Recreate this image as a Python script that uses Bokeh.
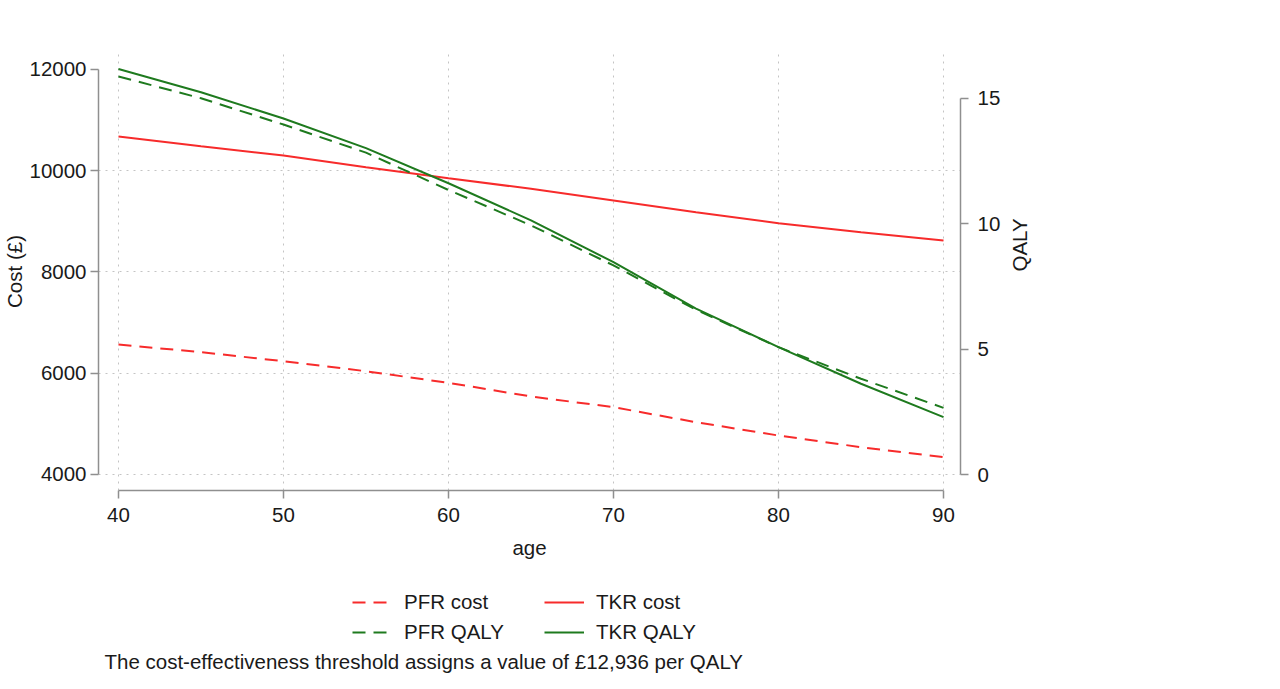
import math
from bokeh.plotting import figure
from bokeh.layouts import column
from bokeh.models import Range1d, LinearAxis, FixedTicker, Legend, LegendItem, Label
from bokeh.embed import file_html
from bokeh.resources import INLINE

# ---- data ----
ages = [40, 45, 50, 55, 60, 65, 70, 75, 80, 85, 90]
tkr_cost = [10677, 10485, 10301, 10070, 9853, 9643, 9412, 9182, 8964, 8786, 8622]
pfr_cost = [6568, 6416, 6238, 6040, 5811, 5541, 5330, 5033, 4770, 4539, 4342]
tkr_qaly = [16.18, 15.25, 14.20, 13.02, 11.62, 10.14, 8.47, 6.62, 5.08, 3.62, 2.29]
pfr_qaly = [15.88, 15.01, 13.96, 12.84, 11.35, 9.94, 8.34, 6.57, 5.08, 3.82, 2.66]

x_ticks = [40, 50, 60, 70, 80, 90]
cost_ticks = [4000, 6000, 8000, 10000, 12000]
cost_grid = [4000, 6000, 8000, 10000]
qaly_ticks = [0, 5, 10, 15]

series_labels = ["PFR cost", "TKR cost", "PFR QALY", "TKR QALY"]
caption = "The cost-effectiveness threshold assigns a value of \u00a312,936 per QALY"

FONT = "Liberation Sans"
FS = "20.5px"
TXT = "#1a1a1a"
AX = "#8f8f8f"
RED = "#f72b2b"
GREEN = "#1e7a1e"
DASH = "13 8"

# ---------------- main chart ----------------
p = figure(width=1264, height=570, output_backend="svg", toolbar_location=None,
           x_range=Range1d(38.789, 91.029), y_range=Range1d(3683.95, 12335.8),
           min_border_left=97, min_border_right=304, min_border_top=52,
           min_border_bottom=80, outline_line_color=None,
           x_axis_label="age", y_axis_label="Cost (\u00a3)")
p.extra_y_ranges = {"qaly": Range1d(-0.638, 16.835)}

right = LinearAxis(y_range_name="qaly", axis_label="QALY")
p.add_layout(right, "right")

def style_axis(ax, ticks, bounds, lab_stand, axlab_stand):
    ax.ticker = FixedTicker(ticks=ticks)
    ax.bounds = bounds
    ax.axis_line_color = AX
    ax.axis_line_width = 1.5
    ax.major_tick_line_color = AX
    ax.major_tick_line_width = 1.5
    ax.major_tick_in = 0
    ax.major_tick_out = 8
    ax.minor_tick_line_color = None
    ax.major_label_text_font = FONT
    ax.major_label_text_font_size = FS
    ax.major_label_text_color = TXT
    ax.major_label_standoff = lab_stand
    ax.axis_label_text_font = FONT
    ax.axis_label_text_font_size = FS
    ax.axis_label_text_font_style = "normal"
    ax.axis_label_text_color = TXT
    ax.axis_label_standoff = axlab_stand

style_axis(p.xaxis[0], x_ticks, (40, 90), 9, 11)
style_axis(p.yaxis[0], cost_ticks, (4000, 12000), 4, 0)
style_axis(right, qaly_ticks, (0, 15), 9, 16)
if "axis_label_orientation" in right.properties():
    right.axis_label_orientation = math.pi / 2

p.xgrid.ticker = FixedTicker(ticks=x_ticks)
p.ygrid.ticker = FixedTicker(ticks=cost_grid)
for g in (p.xgrid[0], p.ygrid[0]):
    g.grid_line_color = "#c4c4c4"
    g.grid_line_dash = "2 5"
    g.grid_line_width = 1

series = [(pfr_cost, RED, DASH, "default"), (tkr_cost, RED, "solid", "default"),
          (pfr_qaly, GREEN, DASH, "qaly"), (tkr_qaly, GREEN, "solid", "qaly")]
for vals, c, d, rng in series:
    p.line(ages, vals, line_color=c, line_width=2, line_dash=d, y_range_name=rng)

# ---------------- legend + note strip ----------------
# the strip's ranges keep its key lines out of view; only their legend samples show
q = figure(width=1264, height=103, output_backend="svg", toolbar_location=None,
           x_range=Range1d(0, 1), y_range=Range1d(0, 1), min_border=0,
           x_axis_type=None, y_axis_type=None, outline_line_color=None)
q.grid.visible = False

keys = [q.line(ages, vals, line_color=c, line_width=2, line_dash=d)
        for vals, c, d, _ in series]

def make_legend(idx, loc):
    lg = Legend(items=[LegendItem(label=series_labels[i], renderers=[keys[i]]) for i in idx],
                location=loc, orientation="vertical")
    lg.label_text_font = FONT
    lg.label_text_font_size = FS
    lg.label_text_color = TXT
    lg.glyph_width = 40
    lg.glyph_height = 20
    lg.label_height = 20
    lg.label_standoff = 12
    lg.spacing = 6
    lg.padding = 4
    lg.margin = 0
    lg.border_line_color = None
    lg.background_fill_alpha = 0
    return lg

# strip frame is aligned with the chart frame (starts at the chart's left axis)
q.add_layout(make_legend([0, 2], (254, 29)))
q.add_layout(make_legend([1, 3], (446, 29)))

q.add_layout(Label(x=6, y=12, x_units="screen", y_units="screen", text=caption,
                   text_font=FONT, text_font_size=FS, text_color=TXT,
                   text_baseline="middle", text_align="left"))

open("out.html", "w").write(file_html(column(p, q), INLINE))
